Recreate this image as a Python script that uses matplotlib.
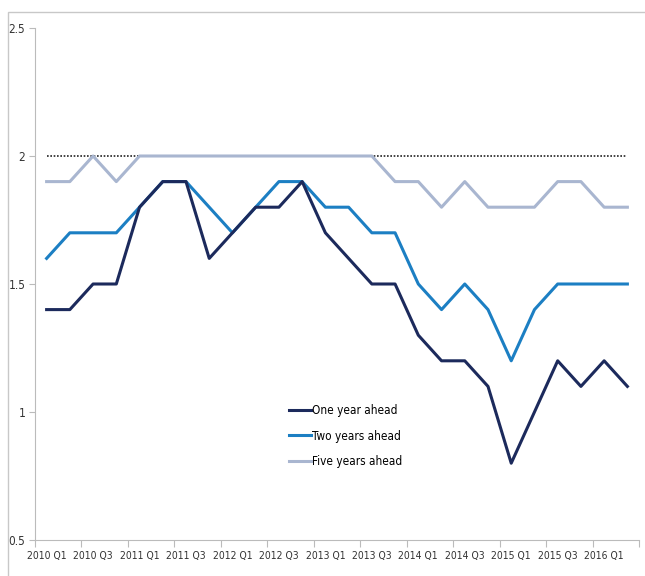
#!/usr/bin/env python3
"""Inflation expectations by horizon vs. the 2% target, quarterly 2010-2016."""
import matplotlib
matplotlib.use("Agg")
import matplotlib.pyplot as plt
from matplotlib.patches import Rectangle

plt.rcParams["font.family"] = ["DejaVu Sans"]
plt.rcParams["font.stretch"] = "condensed"

quarters = [f"{y} Q{q}" for y in range(2010, 2017) for q in range(1, 5)][:26]

one_year = [1.4, 1.4, 1.5, 1.5, 1.8, 1.9, 1.9, 1.6, 1.7, 1.8, 1.8, 1.9, 1.7,
            1.6, 1.5, 1.5, 1.3, 1.2, 1.2, 1.1, 0.8, 1.0, 1.2, 1.1, 1.2, 1.1]
two_years = [1.6, 1.7, 1.7, 1.7, 1.8, 1.9, 1.9, 1.8, 1.7, 1.8, 1.9, 1.9, 1.8,
             1.8, 1.7, 1.7, 1.5, 1.4, 1.5, 1.4, 1.2, 1.4, 1.5, 1.5, 1.5, 1.5]
five_years = [1.9, 1.9, 2.0, 1.9, 2.0, 2.0, 2.0, 2.0, 2.0, 2.0, 2.0, 2.0, 2.0,
              2.0, 2.0, 1.9, 1.9, 1.8, 1.9, 1.8, 1.8, 1.8, 1.9, 1.9, 1.8, 1.8]
target = [2.0] * 26

yticks = [0.5, 1, 1.5, 2, 2.5]
ytick_labels = ["0.5", "1", "1.5", "2", "2.5"]

fig = plt.figure(figsize=(6.45, 5.76), dpi=100)
ax = fig.add_axes([35 / 645, 36 / 576, 604 / 645, 512 / 576])

# outer chart frame
fig.add_artist(Rectangle((8 / 645, -0.1), 1.2, 1.1 - 12 / 576,
                         transform=fig.transFigure, fill=False,
                         edgecolor="#c8c8c8", lw=1.0))

x = list(range(len(quarters)))
ax.plot(x, target, color="#222222", lw=1.2, ls=(0, (1, 1)))
ax.plot(x, five_years, color="#a9b6d0", lw=2.2, label="Five years ahead")
ax.plot(x, two_years, color="#1c7fc3", lw=2.2, label="Two years ahead")
ax.plot(x, one_year, color="#1c2a5c", lw=2.2, label="One year ahead")

ax.set_xlim(-0.5, len(quarters) - 0.5)
ax.set_ylim(0.5, 2.5)
ax.set_yticks(yticks)
ax.set_yticklabels(ytick_labels)

# ticks on category boundaries, labels on every second category
ax.set_xticks([i - 0.5 for i in range(0, 27, 2)])
ax.set_xticklabels([])
ax.set_xticks(x[::2], minor=True)
ax.set_xticklabels(quarters[::2], minor=True)
ax.tick_params(axis="x", which="major", length=5, color="#bbbbbb")
ax.tick_params(axis="x", which="minor", length=0, pad=8, labelsize=7.5,
               labelcolor="#333333")
ax.tick_params(axis="y", length=4, color="#bbbbbb", labelsize=8.5,
               labelcolor="#333333", pad=3)

for side in ("top", "right"):
    ax.spines[side].set_visible(False)
for side in ("left", "bottom"):
    ax.spines[side].set_color("#bbbbbb")

h, l = ax.get_legend_handles_labels()
ax.legend(h[::-1], l[::-1], loc="center", bbox_to_anchor=(0.515, 0.203),
          frameon=False, fontsize=8.5, handlelength=1.8, handletextpad=0.15,
          labelspacing=1.05)

fig.savefig("out.png", dpi=100)
